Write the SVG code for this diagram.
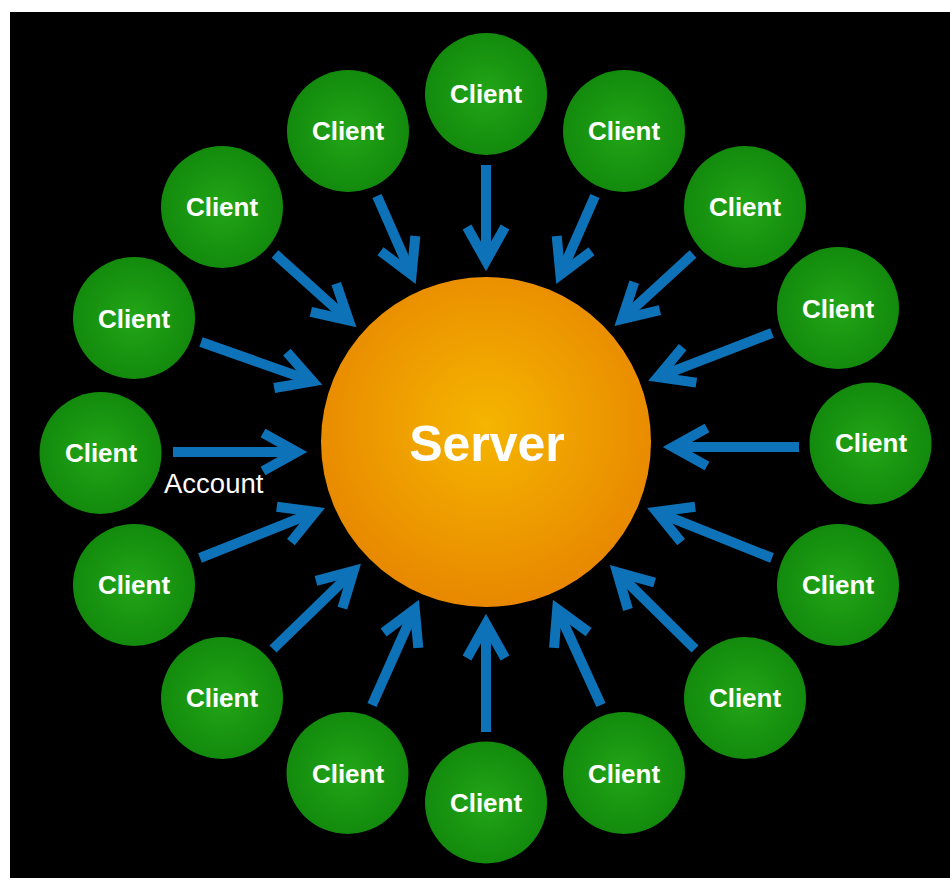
<svg xmlns="http://www.w3.org/2000/svg" width="950" height="878" viewBox="0 0 950 878">
  <style>
    .client-disc { fill: url(#clientFill); }
    .client-label { font-family: "Liberation Sans", Arial, sans-serif; font-weight: bold; font-size: 26px; fill: #ffffff; text-anchor: middle; }
    .server-label { font-family: "Liberation Sans", Arial, sans-serif; font-weight: bold; font-size: 50px; fill: #ffffff; text-anchor: middle; }
    .edge-label { font-family: "Liberation Sans", Arial, sans-serif; font-size: 27.5px; fill: #ffffff; }
    .link { stroke: #0e72b9; stroke-width: 10; fill: none; marker-end: url(#chevron); }
  </style>
  <defs>
    <radialGradient id="clientFill" cx="50%" cy="50%" r="50%">
      <stop offset="0" stop-color="#22a617"/>
      <stop offset="1" stop-color="#138a0d"/>
    </radialGradient>
    <radialGradient id="serverFill" cx="50%" cy="45%" r="55%">
      <stop offset="0" stop-color="#f5b500"/>
      <stop offset="1" stop-color="#e88800"/>
    </radialGradient>
    <marker id="chevron" markerUnits="userSpaceOnUse" viewBox="-45 -30 60 60" refX="0" refY="0" markerWidth="60" markerHeight="60" orient="auto" overflow="visible">
      <path d="M-34,-19 L0,0 L-34,19" fill="none" stroke="#0e72b9" stroke-width="10" stroke-linejoin="miter" stroke-miterlimit="10"/>
    </marker>
  </defs>

  <!-- backdrop -->
  <rect x="10" y="12" width="940" height="866" fill="#000000"/>

  <!-- connectors: every client points at the server -->
  <g id="connectors">
    <line class="link" x1="486" y1="165" x2="486" y2="261"/>
    <line class="link" x1="377" y1="196" x2="411.6" y2="274.7"/>
    <line class="link" x1="595" y1="196" x2="560.4" y2="274.7"/>
    <line class="link" x1="275" y1="254" x2="348.8" y2="320.4"/>
    <line class="link" x1="693" y1="254" x2="622" y2="319.1"/>
    <line class="link" x1="201" y1="342" x2="312.6" y2="381.4"/>
    <line class="link" x1="772" y1="333" x2="657.8" y2="377.1"/>
    <line class="link" x1="173" y1="452" x2="297" y2="452"/>
    <line class="link" x1="799" y1="447" x2="673" y2="447"/>
    <line class="link" x1="200" y1="558" x2="315.4" y2="511.8"/>
    <line class="link" x1="772" y1="558" x2="656.6" y2="511.8"/>
    <line class="link" x1="273" y1="649" x2="353.6" y2="570.8"/>
    <line class="link" x1="695" y1="649" x2="617.1" y2="572.1"/>
    <line class="link" x1="372" y1="705" x2="414.8" y2="609.1"/>
    <line class="link" x1="601" y1="705" x2="557.2" y2="609.1"/>
    <line class="link" x1="486" y1="732" x2="486" y2="624"/>
  </g>

  <!-- server -->
  <g id="server">
    <circle cx="486" cy="442" r="165" fill="url(#serverFill)"/>
    <text class="server-label" x="487" y="461">Server</text>
  </g>

  <!-- clients -->
  <g id="client-01"><circle class="client-disc" cx="486" cy="94" r="61"/><text class="client-label" x="486" y="103">Client</text></g>
  <g id="client-02"><circle class="client-disc" cx="348" cy="131" r="61"/><text class="client-label" x="348" y="140">Client</text></g>
  <g id="client-03"><circle class="client-disc" cx="624" cy="131" r="61"/><text class="client-label" x="624" y="140">Client</text></g>
  <g id="client-04"><circle class="client-disc" cx="222" cy="207" r="61"/><text class="client-label" x="222" y="216">Client</text></g>
  <g id="client-05"><circle class="client-disc" cx="745" cy="207" r="61"/><text class="client-label" x="745" y="216">Client</text></g>
  <g id="client-06"><circle class="client-disc" cx="134" cy="318" r="61"/><text class="client-label" x="134" y="328">Client</text></g>
  <g id="client-07"><circle class="client-disc" cx="838" cy="308" r="61"/><text class="client-label" x="838" y="318">Client</text></g>
  <g id="client-08"><circle class="client-disc" cx="100.5" cy="453" r="61"/><text class="client-label" x="101" y="462">Client</text></g>
  <g id="client-09"><circle class="client-disc" cx="870.5" cy="443.5" r="61"/><text class="client-label" x="871" y="452">Client</text></g>
  <g id="client-10"><circle class="client-disc" cx="134" cy="585" r="61"/><text class="client-label" x="134" y="594">Client</text></g>
  <g id="client-11"><circle class="client-disc" cx="838" cy="585" r="61"/><text class="client-label" x="838" y="594">Client</text></g>
  <g id="client-12"><circle class="client-disc" cx="222" cy="698" r="61"/><text class="client-label" x="222" y="707">Client</text></g>
  <g id="client-13"><circle class="client-disc" cx="745" cy="698" r="61"/><text class="client-label" x="745" y="707">Client</text></g>
  <g id="client-14"><circle class="client-disc" cx="347.5" cy="773" r="61"/><text class="client-label" x="348" y="783">Client</text></g>
  <g id="client-15"><circle class="client-disc" cx="624" cy="773" r="61"/><text class="client-label" x="624" y="783">Client</text></g>
  <g id="client-16"><circle class="client-disc" cx="486" cy="802.5" r="61"/><text class="client-label" x="486" y="812">Client</text></g>

  <!-- label on the left-hand connector -->
  <text class="edge-label" x="164" y="493">Account</text>
</svg>
